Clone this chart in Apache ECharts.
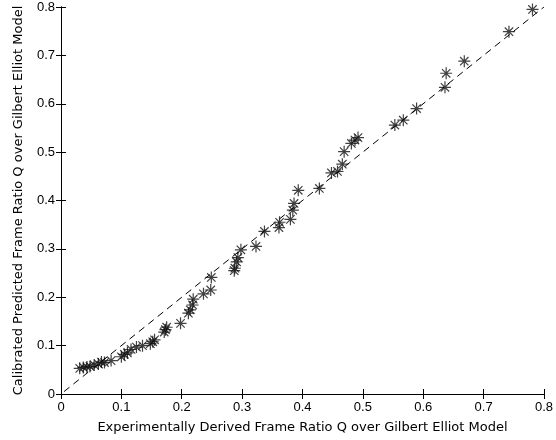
<!DOCTYPE html>
<html>
<head>
<meta charset="utf-8">
<script src="https://cdn.jsdelivr.net/npm/echarts@6/dist/echarts.min.js"></script>
<style>
html,body{margin:0;padding:0;background:#fff;}
#chart{width:556px;height:440px;}
</style>
</head>
<body>
<div id="chart"></div>
<script>
var xValues = [0.031,0.037,0.043,0.048,0.055,0.062,0.067,0.072,0.083,0.100,0.105,0.110,0.116,0.125,0.135,0.148,0.152,0.155,0.171,0.173,0.175,0.198,0.211,0.214,0.218,0.219,0.236,0.248,0.249,0.287,0.288,0.291,0.293,0.298,0.323,0.337,0.361,0.362,0.380,0.384,0.386,0.393,0.428,0.448,0.458,0.466,0.469,0.481,0.487,0.492,0.553,0.567,0.589,0.636,0.638,0.668,0.742,0.781];
var yValues = [0.053,0.055,0.056,0.057,0.060,0.062,0.066,0.065,0.069,0.077,0.082,0.085,0.092,0.097,0.100,0.104,0.108,0.112,0.128,0.133,0.138,0.146,0.167,0.174,0.184,0.196,0.207,0.215,0.241,0.255,0.260,0.273,0.282,0.298,0.305,0.336,0.344,0.355,0.361,0.380,0.394,0.421,0.425,0.457,0.460,0.475,0.501,0.518,0.525,0.530,0.556,0.566,0.590,0.634,0.663,0.688,0.749,0.795];
var refLineX = [0.005, 0.8];
var refLineY = [0.005, 0.8];
var xTicks = [0,0.1,0.2,0.3,0.4,0.5,0.6,0.7,0.8];
var yTicks = [0,0.1,0.2,0.3,0.4,0.5,0.6,0.7,0.8];
var xTitle = 'Experimentally Derived Frame Ratio Q over Gilbert Elliot Model';
var yTitle = 'Calibrated Predicted Frame Ratio Q over Gilbert Elliot Model';

var points = xValues.map(function(x,i){return [x,yValues[i]];});
var linePts = refLineX.map(function(x,i){return [x,refLineY[i]];});

var font = 'Liberation Sans, Arial, sans-serif';
var titleFont = 'DejaVu Sans, sans-serif';
var axisCommon = {
  min: 0, max: 0.8, interval: 0.1,
  axisLine: {show:true, lineStyle:{color:'#000', width:1}},
  axisTick: {show:true, inside:true, length:5, lineStyle:{color:'#000'}},
  splitLine: {show:false}
};
function lbl(v){ return (Math.round(v*10)/10).toString(); }

var chart = echarts.init(document.getElementById('chart'), null, {renderer:'canvas'});
chart.setOption({
  animation: false,
  backgroundColor: '#fff',
  grid: {left: 61, right: 6, top: 7, bottom: 46, containLabel: false},
  xAxis: [
    Object.assign({}, axisCommon, {
      type:'value', position:'bottom',
      name: xTitle, nameLocation:'middle', nameGap: 27,
      nameTextStyle:{fontFamily:titleFont, fontSize:13, color:'#000'},
      axisLabel:{show:true, margin:7, fontFamily:font, fontSize:13, color:'#000', formatter: lbl,
        customValues: xTicks}
    }),
    Object.assign({}, axisCommon, {
      type:'value', position:'top',
      axisLabel:{show:false}
    })
  ],
  yAxis: [
    Object.assign({}, axisCommon, {
      type:'value', position:'left',
      name: yTitle, nameLocation:'middle', nameGap: 36, nameRotate: 90,
      nameTextStyle:{fontFamily:titleFont, fontSize:13, color:'#000'},
      axisLabel:{show:true, margin:6, fontFamily:font, fontSize:13, color:'#000', formatter: lbl,
        customValues: yTicks}
    }),
    Object.assign({}, axisCommon, {
      type:'value', position:'right',
      axisLabel:{show:false}
    })
  ],
  series: [
    {
      type:'line', data: linePts, xAxisIndex:0, yAxisIndex:0,
      symbol:'none', silent:true,
      lineStyle:{color:'#000', width:1, type:[7,5]}
    },
    {
      type:'scatter', data: points, xAxisIndex:0, yAxisIndex:0,
      symbol:'path://M0,-1L0,1M-1,0L1,0M-0.7,-0.7L0.7,0.7M-0.7,0.7L0.7,-0.7',
      symbolSize: 12,
      itemStyle:{color:'rgba(0,0,0,0)', borderColor:'#111', borderWidth:1.2}
    }
  ]
});
</script>
</body>
</html>
